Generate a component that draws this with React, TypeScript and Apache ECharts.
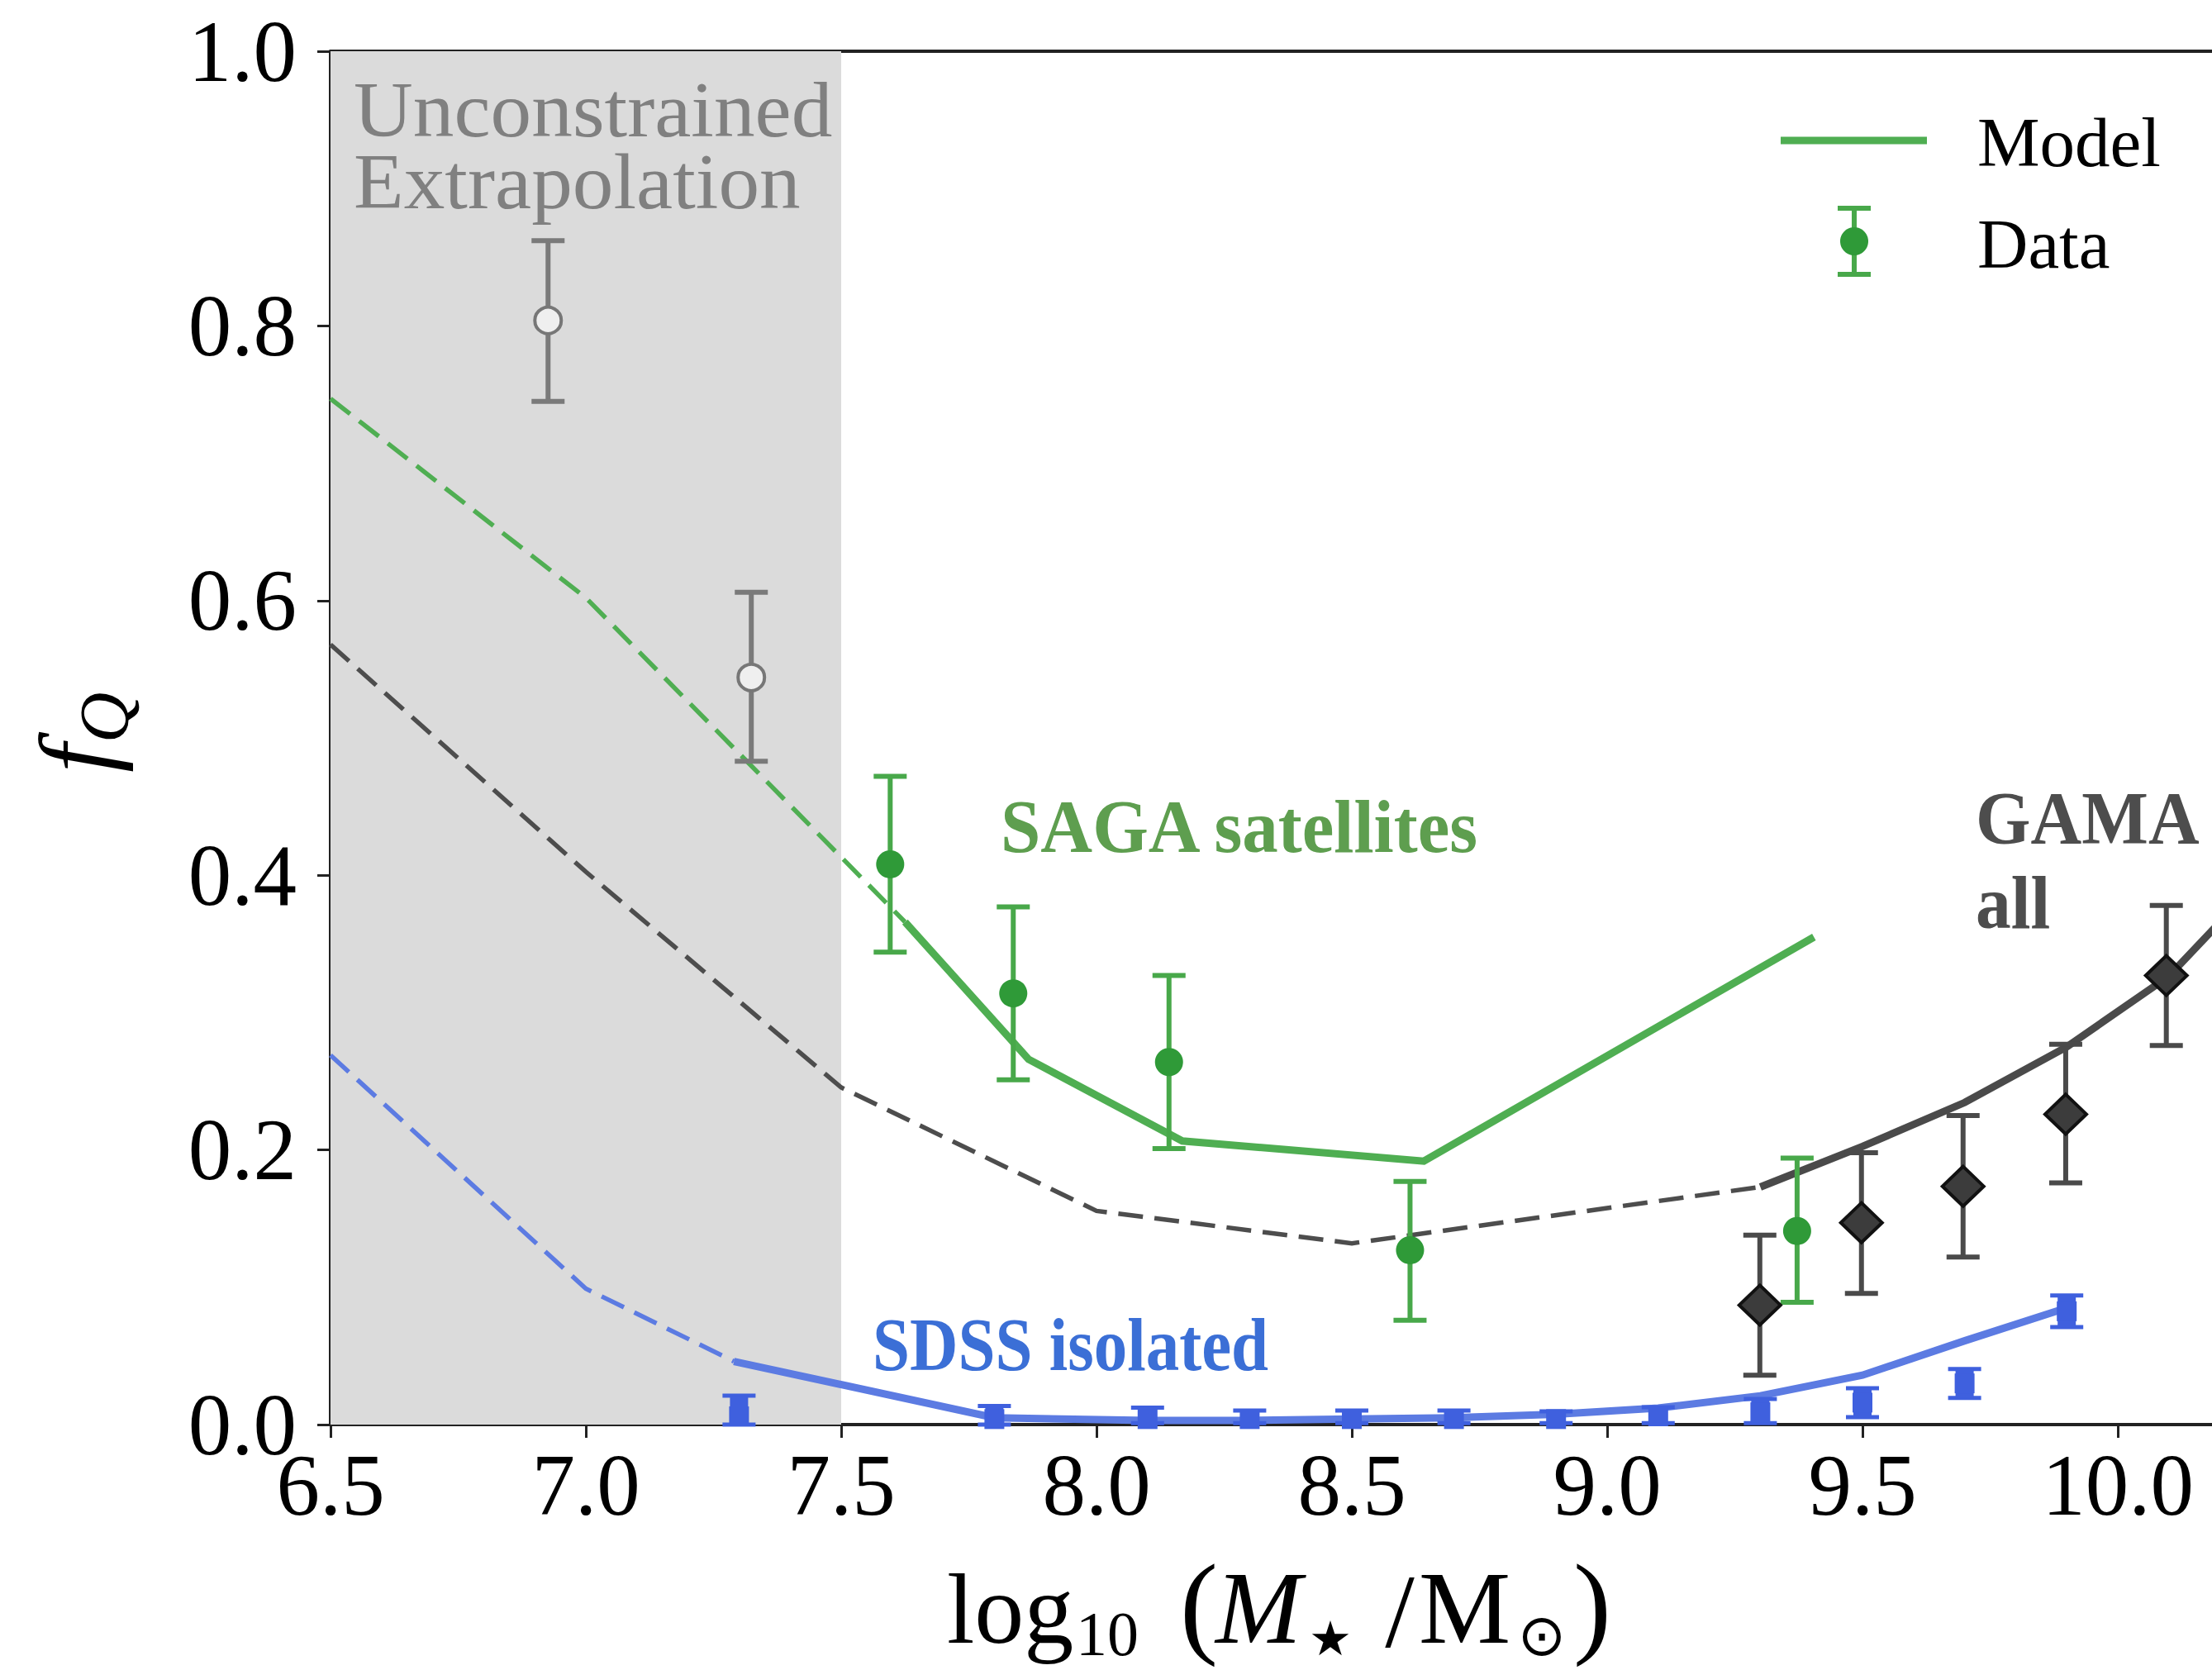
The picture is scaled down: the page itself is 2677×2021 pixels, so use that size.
import React, { useEffect, useRef } from "react";
import * as echarts from "echarts";

// ---------- data ----------
const xTicks = [6.5, 7.0, 7.5, 8.0, 8.5, 9.0, 9.5, 10.0];
const yTicks = [0.0, 0.2, 0.4, 0.6, 0.8, 1.0];

// SAGA satellites (green data)
const sagaX = [7.596, 7.837, 8.142, 8.614, 9.372];
const sagaY = [0.408, 0.314, 0.264, 0.127, 0.141];
const sagaLo = [0.344, 0.251, 0.201, 0.076, 0.089];
const sagaHi = [0.472, 0.377, 0.327, 0.177, 0.194];

// unconstrained extrapolation points (grey open circles)
const extrapX = [6.926, 7.324];
const extrapY = [0.804, 0.544];
const extrapLo = [0.745, 0.483];
const extrapHi = [0.862, 0.606];

// GAMA all (black diamonds)
const gamaX = [9.299, 9.498, 9.697, 9.898, 10.095];
const gamaY = [0.087, 0.147, 0.1735, 0.226, 0.327];
const gamaLo = [0.036, 0.0955, 0.122, 0.176, 0.276];
const gamaHi = [0.138, 0.198, 0.225, 0.277, 0.378];

// SDSS isolated (blue squares)
const sdssX = [7.3, 7.8, 8.1, 8.3, 8.5, 8.7, 8.9, 9.1, 9.3, 9.5, 9.7, 9.9];
const sdssY = [0.006, 0.004, 0.004, 0.004, 0.004, 0.004, 0.004, 0.006, 0.009, 0.016, 0.03, 0.0825];
const sdssLo = [0.0, 0.0, 0.001, 0.001, 0.001, 0.001, 0.001, 0.001, 0.001, 0.0054, 0.0194, 0.071];
const sdssHi = [0.021, 0.0135, 0.0123, 0.0103, 0.0103, 0.0103, 0.0096, 0.0126, 0.0186, 0.0265, 0.0405, 0.094];

// models
const sagaModelDashX = [6.5, 7.0, 7.625];
const sagaModelDashY = [0.747, 0.602, 0.366];
const sagaModelX = [7.625, 7.867, 8.168, 8.641, 9.405];
const sagaModelY = [0.366, 0.266, 0.2065, 0.1918, 0.355];

const gamaModelDashX = [6.5, 7.0, 7.5, 8.0, 8.5, 9.3];
const gamaModelDashY = [0.568, 0.4025, 0.2455, 0.1556, 0.132, 0.173];
const gamaModelX = [9.3, 9.5, 9.7, 9.9, 10.1, 10.3];
const gamaModelY = [0.173, 0.2025, 0.2345, 0.275, 0.3265, 0.405];

const sdssModelDashX = [6.5, 7.0, 7.29];
const sdssModelDashY = [0.269, 0.099, 0.046];
const sdssModelX = [7.29, 7.8, 8.1, 8.3, 8.5, 8.7, 8.9, 9.1, 9.3, 9.5, 9.7, 9.9];
const sdssModelY = [0.046, 0.005, 0.003, 0.003, 0.004, 0.005, 0.0075, 0.012, 0.021, 0.036, 0.061, 0.085];

const shadeRange = [6.5, 7.5];

// ---------- styles ----------
const GREEN_LINE = "#4fae52";
const GREEN_ERR = "#48a84a";
const GREEN_MARK = "#2f9a38";
const GREEN_TEXT = "#5e9e4f";
const BLUE_LINE = "#5c7be2";
const BLUE_MARK = "#3f60de";
const BLUE_TEXT = "#3b6fd6";
const BLACK_LINE = "#4a4a4a";
const BLACK_DASH = "#4d4d4d";
const BLACK_ERR = "#4a4a4a";
const GREY_ERR = "#7a7a7a";
const SERIF = '"Liberation Serif", "Times New Roman", serif';

const pairs = (xs: number[], ys: number[]) => xs.map((x, i) => [x, ys[i]]);

function lineSeries(xs: number[], ys: number[], color: string, width: number, dashed: boolean, z: number) {
  return {
    type: "line",
    data: pairs(xs, ys),
    showSymbol: false,
    symbol: "none",
    silent: true,
    z,
    lineStyle: {
      color,
      width,
      type: dashed ? [30, 14] : "solid",
      cap: "butt",
      join: "miter",
    },
  };
}

function errorSeries(xs: number[], los: number[], his: number[], color: string, lw: number, capW: number, z: number, bodyW = 0) {
  return {
    type: "custom",
    coordinateSystem: "cartesian2d",
    silent: true,
    z,
    data: xs.map((x, i) => [x, los[i], his[i]]),
    encode: { x: 0, y: [1, 2] },
    renderItem: (_p: any, api: any) => {
      const x = api.value(0);
      const a = api.coord([x, api.value(1)]);
      const b = api.coord([x, api.value(2)]);
      const h = capW / 2;
      const style = { stroke: color, lineWidth: lw, fill: "none" };
      const children: any[] = [
        { type: "line", shape: { x1: a[0], y1: a[1], x2: b[0], y2: b[1] }, style },
        { type: "line", shape: { x1: a[0] - h, y1: a[1], x2: a[0] + h, y2: a[1] }, style },
        { type: "line", shape: { x1: b[0] - h, y1: b[1], x2: b[0] + h, y2: b[1] }, style },
      ];
      if (bodyW > 0) {
        children.push({
          type: "rect",
          shape: { x: a[0] - bodyW / 2, y: b[1], width: bodyW, height: Math.max(a[1] - b[1], 1) },
          style: { fill: color },
        });
      }
      return { type: "group", children };
    },
  };
}

function markerSeries(xs: number[], ys: number[], symbol: string, size: any, fill: string, border: string, bw: number, z: number) {
  return {
    type: "scatter",
    data: pairs(xs, ys),
    symbol,
    symbolSize: size,
    silent: true,
    z,
    itemStyle: { color: fill, borderColor: border, borderWidth: bw, opacity: 1 },
  };
}

function txt(text: string, x: number, y: number, size: number, color: string, opts: any = {}) {
  const style: any = {
    text,
    fill: color,
    fontSize: size,
    fontFamily: opts.family || SERIF,
    fontStyle: opts.italic ? "italic" : "normal",
    fontWeight: opts.bold ? "bold" : "normal",
    align: opts.align || "left",
    verticalAlign: "middle",
  };
  if (opts.lineHeight) style.lineHeight = opts.lineHeight;
  return {
    type: "text",
    x,
    y,
    rotation: opts.rotation || 0,
    scaleX: opts.scaleX || 1,
    silent: true,
    z: 100,
    style,
  };
}

export default function App() {
  const ref = useRef<HTMLDivElement>(null);
  useEffect(() => {
    if (!ref.current) return;
    const chart = echarts.init(ref.current, undefined, { renderer: "svg" });
    const axisColor = "#222";
    const option: any = {
      animation: false,
      backgroundColor: "#ffffff",
      grid: { left: 400, top: 62, bottom: 297, right: 13.4, containLabel: false },
      xAxis: [
        {
          type: "value",
          min: 6.5,
          max: 10.2,
          interval: 0.5,
          axisLine: { show: true, onZero: false, lineStyle: { color: axisColor, width: 4 } },
          axisTick: { show: true, length: 16, lineStyle: { color: axisColor, width: 3 } },
          axisLabel: {
            margin: 21,
            fontSize: 105,
            lineHeight: 105,
            fontFamily: SERIF,
            color: "#000",
            showMaxLabel: false,
            formatter: (v: number) => (xTicks.some((t) => Math.abs(t - v) < 1e-6) ? v.toFixed(1) : ""),
          },
          splitLine: { show: false },
        },
        {
          type: "value",
          position: "top",
          min: 6.5,
          max: 10.2,
          axisLine: { show: true, onZero: false, lineStyle: { color: axisColor, width: 4 } },
          axisTick: { show: false },
          axisLabel: { show: false },
          splitLine: { show: false },
        },
      ],
      yAxis: {
        type: "value",
        min: 0,
        max: 1,
        interval: 0.2,
        axisLine: { show: true, onZero: false, lineStyle: { color: axisColor, width: 4 } },
        axisTick: { show: true, length: 16, lineStyle: { color: axisColor, width: 3 } },
        axisLabel: {
          margin: 41,
          fontSize: 105,
          fontFamily: SERIF,
          color: "#000",
          formatter: (v: number) => (yTicks.some((t) => Math.abs(t - v) < 1e-6) ? v.toFixed(1) : ""),
        },
        splitLine: { show: false },
      },
      series: [
        {
          type: "line",
          data: [[shadeRange[0], 0]],
          symbol: "none",
          silent: true,
          z: 0,
          lineStyle: { opacity: 0 },
          markArea: {
            silent: true,
            itemStyle: { color: "#dbdbdb" },
            data: [[{ xAxis: shadeRange[0] }, { xAxis: shadeRange[1] }]],
          },
        },
        lineSeries(sagaModelDashX, sagaModelDashY, GREEN_LINE, 5.5, true, 3),
        lineSeries(gamaModelDashX, gamaModelDashY, BLACK_DASH, 5.5, true, 3),
        lineSeries(sdssModelDashX, sdssModelDashY, BLUE_LINE, 5.5, true, 3),
        lineSeries(sagaModelX, sagaModelY, GREEN_LINE, 9, false, 3),
        lineSeries(gamaModelX, gamaModelY, BLACK_LINE, 9, false, 4),
        lineSeries(sdssModelX, sdssModelY, BLUE_LINE, 9, false, 3),
        errorSeries(extrapX, extrapLo, extrapHi, GREY_ERR, 6, 40, 5),
        errorSeries(sagaX, sagaLo, sagaHi, GREEN_ERR, 6, 40, 5),
        errorSeries(gamaX, gamaLo, gamaHi, BLACK_ERR, 6, 40, 5),
        errorSeries(sdssX, sdssLo, sdssHi, BLUE_MARK, 5, 40, 5, 22),
        markerSeries(extrapX, extrapY, "circle", 32, "#efefef", "#777777", 4, 6),
        markerSeries(sagaX, sagaY, "circle", 34, GREEN_MARK, GREEN_MARK, 0, 6),
        markerSeries(gamaX, gamaY, "diamond", [50, 48], "#3c3c3c", "#111111", 4, 6),
        markerSeries(sdssX, sdssY, "rect", 24, BLUE_MARK, BLUE_MARK, 0, 6),
      ],
      graphic: [
        // annotation texts
        txt("Unconstrained\nExtrapolation", 428, 176.5, 96, "#808080", { lineHeight: 87, scaleX: 1.035 }),
        txt("SAGA satellites", 1211, 1000, 92, GREEN_TEXT, { bold: true, scaleX: 0.945 }),
        txt("SDSS isolated", 1056, 1627, 92, BLUE_TEXT, { bold: true, scaleX: 0.88 }),
        txt("GAMA", 2391, 991, 90, "#4d4d4d", { bold: true, scaleX: 0.95 }),
        txt("all", 2391, 1093, 90, "#4d4d4d", { bold: true, scaleX: 0.95 }),
        // legend
        { type: "line", silent: true, z: 100, shape: { x1: 2155, y1: 170, x2: 2332, y2: 170 }, style: { stroke: GREEN_LINE, lineWidth: 9 } },
        { type: "line", silent: true, z: 100, shape: { x1: 2244, y1: 252, x2: 2244, y2: 332 }, style: { stroke: GREEN_ERR, lineWidth: 6 } },
        { type: "line", silent: true, z: 100, shape: { x1: 2224, y1: 252, x2: 2264, y2: 252 }, style: { stroke: GREEN_ERR, lineWidth: 6 } },
        { type: "line", silent: true, z: 100, shape: { x1: 2224, y1: 332, x2: 2264, y2: 332 }, style: { stroke: GREEN_ERR, lineWidth: 6 } },
        { type: "circle", silent: true, z: 101, shape: { cx: 2244, cy: 292, r: 17 }, style: { fill: GREEN_MARK } },
        txt("Model", 2393, 172, 85, "#000"),
        txt("Data", 2393, 295, 85, "#000"),
        // x axis title: log10(M*/Msun)
        txt("log", 1146, 1947.5, 120, "#000"),
        txt("10", 1302, 1977, 76, "#000"),
        txt("(", 1428, 1941, 138, "#000"),
        txt("M", 1471, 1946, 125, "#000", { italic: true }),
        txt("\u2605", 1610, 1983, 58, "#000", { align: "center", family: '"DejaVu Sans", sans-serif' }),
        txt("/", 1694, 1950, 128, "#000", { align: "center" }),
        txt("M", 1717, 1946, 125, "#000"),
        txt("\u2299", 1866, 1979, 70, "#000", { align: "center", family: '"DejaVu Sans", sans-serif' }),
        txt(")", 1904, 1941, 138, "#000"),
        // y axis title: f_Q
        txt("f", 92, 935, 125, "#000", { italic: true, rotation: Math.PI / 2 }),
        txt("Q", 126, 899, 85, "#000", { italic: true, rotation: Math.PI / 2 }),
      ],
    };
    chart.setOption(option);
    return () => chart.dispose();
  }, []);

  return (
    <div style={{ position: "fixed", left: 0, top: 0, width: 2677, height: 2021, overflow: "hidden", background: "#fff" }}>
      <div ref={ref} style={{ width: 2700, height: 2021 }} />
    </div>
  );
}
